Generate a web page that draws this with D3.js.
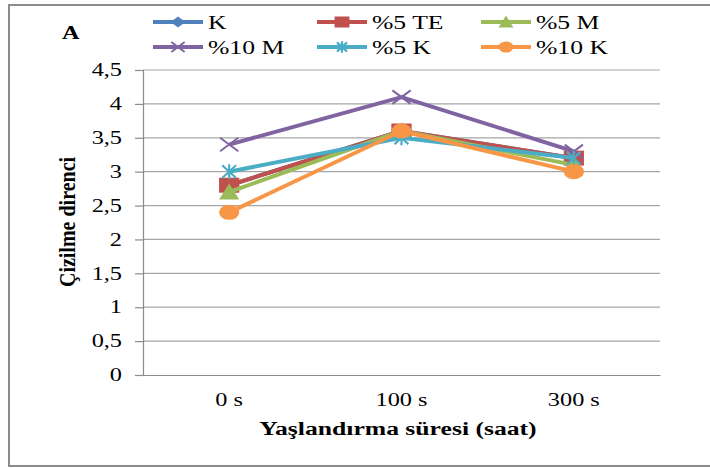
<!DOCTYPE html>
<html>
<head>
<meta charset="utf-8">
<script src="https://cdn.jsdelivr.net/npm/d3@7"></script>
<style>
  body { margin: 0; background: #fff; }
</style>
</head>
<body>
<div id="chart"></div>
<script>
const categories = ["0 s", "100 s", "300 s"];
const seriesNames = ["K", "%5 TE", "%5 M", "%10 M", "%5 K", "%10 K"];
const valuesK    = [2.8, 3.6, 3.2];
const values5TE  = [2.8, 3.6, 3.2];
const values5M   = [2.7, 3.6, 3.1];
const values10M  = [3.4, 4.1, 3.3];
const values5K   = [3.0, 3.5, 3.2];
const values10K  = [2.4, 3.6, 3.0];
const yTicks = [0, 0.5, 1, 1.5, 2, 2.5, 3, 3.5, 4, 4.5];

const allValues = [valuesK, values5TE, values5M, values10M, values5K, values10K];
const colors = ["#4f81bd", "#c0504d", "#9bbb59", "#8064a2", "#4bacc6", "#f79646"];
const markers = ["diamond", "square", "triangle", "x", "asterisk", "circle"];

const width = 710, height = 468;
const plot = { left: 143, right: 660, top: 70, bottom: 375 };
const font = "'Liberation Serif', 'Times New Roman', serif";
const sx = 1.35; // horizontal stretch of the original picture

const svg = d3.select("#chart").append("svg")
  .attr("width", width)
  .attr("height", height);

// outer frame
svg.append("rect")
  .attr("x", 9).attr("y", 5)
  .attr("width", 720).attr("height", 461)
  .attr("fill", "none")
  .attr("stroke", "#8c8c8c")
  .attr("stroke-width", 2);

const x = d3.scaleBand().domain(categories).range([plot.left, plot.right]);
const y = d3.scaleLinear().domain([0, 4.5]).range([plot.bottom, plot.top]);

// stretched text helper
function label(x0, y0, str, size, bold, anchor) {
  return svg.append("text")
    .attr("transform", `translate(${x0},${y0}) scale(${sx},1)`)
    .attr("text-anchor", anchor || "start")
    .style("font-family", font)
    .style("font-size", size + "px")
    .style("font-weight", bold ? "bold" : "normal")
    .style("fill", "#000")
    .text(str);
}

// gridlines
svg.append("g")
  .selectAll("line")
  .data(yTicks.filter(d => d > 0))
  .join("line")
  .attr("x1", plot.left).attr("x2", plot.right)
  .attr("y1", d => y(d)).attr("y2", d => y(d))
  .attr("stroke", "#a6a6a6")
  .attr("stroke-width", 1.2);

// y axis
const yAxis = svg.append("g")
  .attr("transform", `translate(${plot.left},0)`)
  .call(d3.axisLeft(y).tickValues(yTicks).tickSize(8)
    .tickFormat(d => String(d).replace(".", ",")));
yAxis.select(".domain").attr("stroke", "#8c8c8c").attr("stroke-width", 1.2);
yAxis.selectAll(".tick line").attr("stroke", "#8c8c8c").attr("stroke-width", 1.2);
yAxis.selectAll(".tick text")
  .attr("x", -21 / sx)
  .attr("transform", `scale(${sx},1)`)
  .style("font-family", font)
  .style("font-size", "18px")
  .style("fill", "#000");

// x axis
const xAxis = svg.append("g")
  .attr("transform", `translate(0,${plot.bottom})`)
  .call(d3.axisBottom(x).tickSize(0).tickPadding(18));
xAxis.select(".domain").attr("stroke", "#8c8c8c").attr("stroke-width", 1.2);
xAxis.selectAll(".tick text")
  .attr("transform", `scale(${sx},1)`)
  .style("font-family", font)
  .style("font-size", "18px")
  .style("fill", "#000");

// axis titles
label(398, 435, "Yaşlandırma süresi (saat)", 19, true, "middle");

svg.append("text")
  .attr("transform", `translate(75,222) rotate(-90) scale(1,1.15)`)
  .attr("text-anchor", "middle")
  .style("font-family", font)
  .style("font-size", "20px")
  .style("font-weight", "bold")
  .style("fill", "#000")
  .text("Çizilme direnci");

label(62, 39, "A", 18, true);

// markers are stretched horizontally like the picture
function drawMarker(g, type, color, cx, cy, s) {
  const w = s * sx;
  if (type === "diamond") {
    g.append("path").attr("d", `M${cx},${cy - s}L${cx + w},${cy}L${cx},${cy + s}L${cx - w},${cy}Z`).attr("fill", color);
  } else if (type === "square") {
    g.append("rect").attr("x", cx - w).attr("y", cy - s).attr("width", 2 * w).attr("height", 2 * s).attr("fill", color);
  } else if (type === "triangle") {
    g.append("path").attr("d", `M${cx},${cy - s - 1}L${cx + w},${cy + s}L${cx - w},${cy + s}Z`).attr("fill", color);
  } else if (type === "circle") {
    g.append("ellipse").attr("cx", cx).attr("cy", cy).attr("rx", w).attr("ry", s).attr("fill", color);
  } else if (type === "x") {
    const h = s * 0.9, r = h * sx;
    g.append("path").attr("d", `M${cx - r},${cy - h}L${cx + r},${cy + h}M${cx - r},${cy + h}L${cx + r},${cy - h}`)
      .attr("stroke", color).attr("stroke-width", 2).attr("fill", "none");
  } else if (type === "asterisk") {
    const h = s * 0.85, r = h * sx * 0.8;
    g.append("path").attr("d", `M${cx - r},${cy - h}L${cx + r},${cy + h}M${cx - r},${cy + h}L${cx + r},${cy - h}M${cx},${cy - h - 1}L${cx},${cy + h + 1}`)
      .attr("stroke", color).attr("stroke-width", 2.2).attr("fill", "none");
  }
}

const line = d3.line()
  .x((d, i) => x(categories[i]) + x.bandwidth() / 2)
  .y(d => y(d));

allValues.forEach((vals, si) => {
  const g = svg.append("g");
  g.append("path")
    .datum(vals)
    .attr("d", line)
    .attr("fill", "none")
    .attr("stroke", colors[si])
    .attr("stroke-width", 4)
    .attr("stroke-linejoin", "round");
  vals.forEach((v, i) => {
    drawMarker(g, markers[si], colors[si], x(categories[i]) + x.bandwidth() / 2, y(v), 7.5);
  });
});

// legend
const legendCols = [153, 317, 481];
const legendRows = [22, 47];
seriesNames.forEach((name, i) => {
  const lx = legendCols[i % 3], ly = legendRows[Math.floor(i / 3)];
  const g = svg.append("g");
  g.append("line")
    .attr("x1", lx).attr("x2", lx + 50)
    .attr("y1", ly).attr("y2", ly)
    .attr("stroke", colors[i]).attr("stroke-width", 4);
  drawMarker(g, markers[i], colors[i], lx + 25, ly, 5.5);
  label(lx + 55, ly + 7, name, 19, false);
});
</script>
</body>
</html>
